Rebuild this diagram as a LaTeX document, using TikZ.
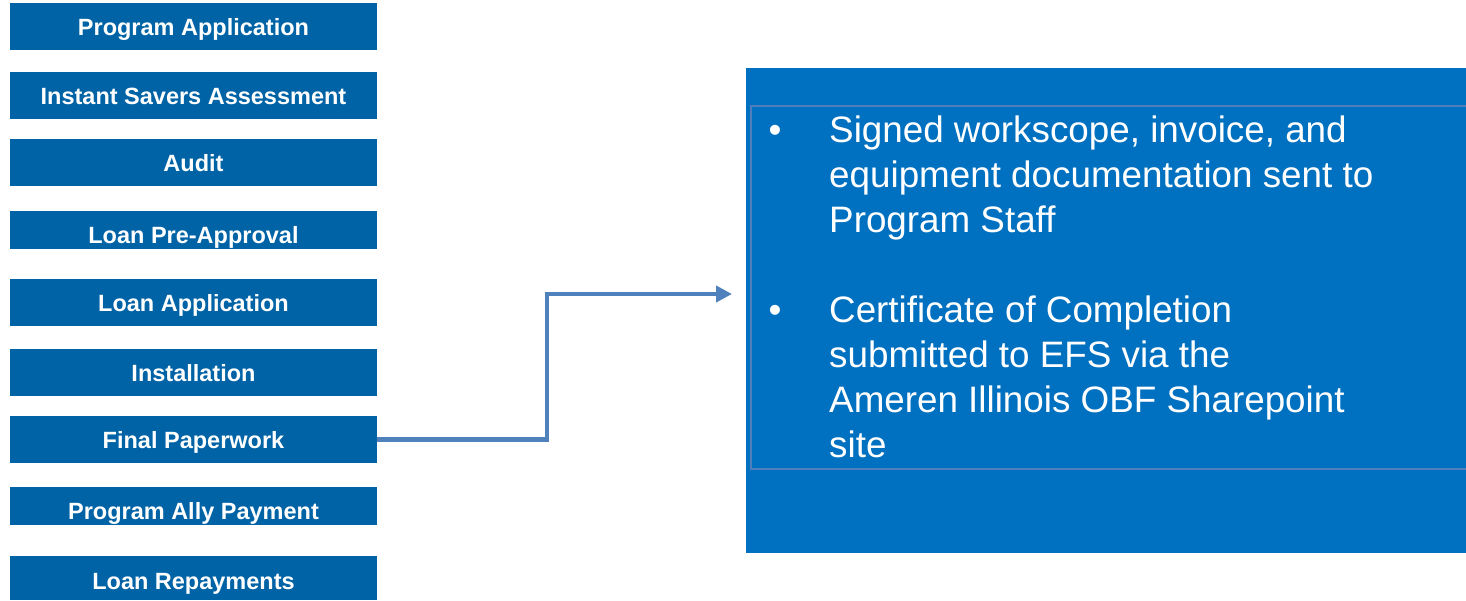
\documentclass[tikz,border=0pt]{standalone}
\usepackage{fontspec}
\setmainfont{Liberation Sans}
\usetikzlibrary{arrows.meta}
\definecolor{stepblue}{HTML}{0063A6}
\definecolor{panelblue}{HTML}{0070C0}
\definecolor{framegrey}{HTML}{4F7EBC}
\definecolor{arrowblue}{HTML}{4F81BD}
\tikzset{
  stepbox/.style={fill=stepblue, text=white, font=\fontsize{23.5}{28}\selectfont\bfseries,
    minimum width=367pt, minimum height=47pt, inner xsep=0pt, inner ysep=0pt,
    text height=16.8pt, text depth=0pt, anchor=north},
  shortbox/.style={stepbox, minimum height=38pt, text height=27pt},
  lastbox/.style={stepbox, minimum height=44pt, text height=22pt},
  bodytext/.style={text=white, font=\fontsize{36.8}{45}\selectfont, inner sep=0pt, anchor=base west},
  bulletmark/.style={text=white, font=\fontsize{36.8}{45}\selectfont, inner sep=0pt, anchor=base},
  flow/.style={draw=arrowblue, line width=4.5pt, -{Triangle[length=16pt,width=16pt]}}
}
\begin{document}
\begin{tikzpicture}[x=1pt,y=-1pt]
\useasboundingbox (0,0) rectangle (1466,600);
% left steps
\node[stepbox]  (s1) at (193.5,3)   {Program Application};
\node[stepbox]  (s2) at (193.5,72)  {Instant Savers Assessment};
\node[stepbox]  (s3) at (193.5,139) {Audit};
\node[shortbox] (s4) at (193.5,211) {Loan Pre-Approval};
\node[stepbox]  (s5) at (193.5,279) {Loan Application};
\node[stepbox]  (s6) at (193.5,349) {Installation};
\node[stepbox]  (s7) at (193.5,416) {Final Paperwork};
\node[shortbox] (s8) at (193.5,487) {Program Ally Payment};
\node[lastbox]  (s9) at (193.5,556) {Loan Repayments};
% right panel
\node[fill=panelblue, inner sep=0pt, minimum width=720pt, minimum height=485pt, anchor=north west] (panel) at (746,68) {};
\node[draw=framegrey, line width=1.5pt, inner sep=0pt, minimum width=730pt, minimum height=363pt, anchor=north west] (frame) at (750,105) {};
\node[bulletmark] (b1) at (775,142) {•};
\node[bodytext] (t1) at (829,142) {\begin{tabular}[t]{@{}l@{}}Signed workscope, invoice, and\\equipment documentation sent to\\Program Staff\end{tabular}};
\node[bulletmark] (b2) at (775,322) {•};
\node[bodytext] (t2) at (829,322) {\begin{tabular}[t]{@{}l@{}}Certificate of Completion\\submitted to EFS via the\\Ameren Illinois OBF Sharepoint\\site\end{tabular}};
% connector
\coordinate (bend) at (547,294);
\coordinate (tip) at (732,294);
\draw[flow] (s7.east) -| (bend) -- (tip);
\end{tikzpicture}
\end{document}
